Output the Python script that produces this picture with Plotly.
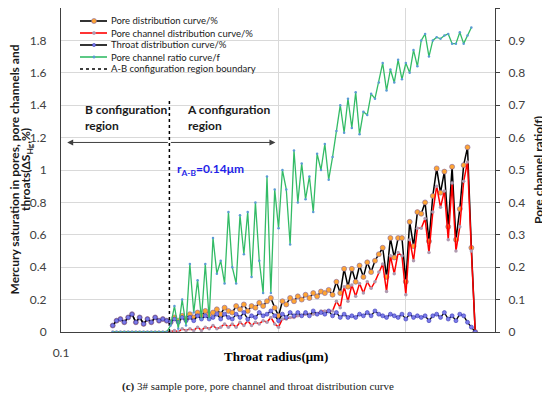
import math
import plotly.graph_objects as go

# ---------------- data ----------------
radius_um = [0.0502, 0.0538, 0.0577, 0.0619, 0.0664, 0.0712, 0.0763, 0.0818, 0.0878, 0.0941,
             0.1009, 0.1082, 0.1160, 0.1244, 0.1334, 0.1431, 0.1534, 0.1645, 0.1764, 0.1892,
             0.2028, 0.2175, 0.2332, 0.2501, 0.2682, 0.2876, 0.3083, 0.3306, 0.3545, 0.3802,
             0.4077, 0.4371, 0.4687, 0.5026, 0.5390, 0.5779, 0.6197, 0.6645, 0.7126, 0.7641,
             0.8193, 0.8786, 0.9421, 1.0102, 1.0832, 1.1616, 1.2456, 1.3356, 1.4322, 1.5357,
             1.6468, 1.7658, 1.8935, 2.0304, 2.1772, 2.3346, 2.5034, 2.6844, 2.8785, 3.0866,
             3.3098, 3.5491, 3.8057, 4.0809, 4.3759, 4.6923, 5.0316, 5.3954, 5.7855, 6.2038,
             6.6524, 7.1333, 7.6491, 8.2021, 8.7952, 9.4311, 10.113, 10.844, 11.628, 12.469,
             13.370, 14.337, 15.374, 16.485, 17.677, 18.955, 20.326, 21.795, 23.371, 25.061,
             26.873, 28.816, 30.899, 33.133, 35.53]

pore_pct = [0.04, 0.07, 0.08, 0.06, 0.09, 0.11, 0.06, 0.09, 0.05, 0.08, 0.06, 0.09, 0.07, 0.08, 0.07,
            0.06, 0.09, 0.07, 0.10, 0.08, 0.11, 0.09, 0.12, 0.10, 0.13, 0.11, 0.12, 0.14, 0.11, 0.15,
            0.13, 0.12, 0.16, 0.14, 0.17, 0.13, 0.16, 0.15, 0.18, 0.16, 0.19, 0.21, 0.15, 0.10, 0.19,
            0.17, 0.21, 0.19, 0.22, 0.20, 0.23, 0.21, 0.24, 0.22, 0.25, 0.24, 0.26, 0.23, 0.31, 0.24,
            0.39, 0.28, 0.39, 0.31, 0.41, 0.34, 0.43, 0.37, 0.44, 0.48, 0.52, 0.34, 0.58, 0.46, 0.58,
            0.58, 0.31, 0.68, 0.53, 0.74, 0.73, 0.80, 0.56, 0.84, 1.01, 0.86, 0.99, 0.65, 1.02, 0.57,
            0.76, 1.03, 1.14, 0.52, 0.0]

channel_pct = [0, 0, 0, 0, 0, 0, 0, 0, 0, 0, 0, 0, 0, 0, 0,
               0.00, 0.01, 0.00, 0.02, 0.01, 0.02, 0.01, 0.03, 0.01, 0.03, 0.02, 0.04, 0.02, 0.03, 0.05,
               0.03, 0.05, 0.03, 0.06, 0.04, 0.07, 0.04, 0.06, 0.05, 0.07, 0.06, 0.09, 0.05, 0.03, 0.08,
               0.08, 0.09, 0.09, 0.10, 0.10, 0.11, 0.11, 0.11, 0.11, 0.13, 0.13, 0.13, 0.13, 0.19, 0.15,
               0.28, 0.19, 0.29, 0.22, 0.30, 0.24, 0.31, 0.27, 0.31, 0.37, 0.42, 0.25, 0.47, 0.36, 0.49,
               0.47, 0.23, 0.57, 0.44, 0.64, 0.64, 0.70, 0.49, 0.74, 0.90, 0.77, 0.87, 0.57, 0.92, 0.50,
               0.65, 0.93, 1.05, 0.50, 0.0]

throat_pct = [0.04, 0.07, 0.08, 0.06, 0.09, 0.11, 0.06, 0.09, 0.05, 0.08, 0.06, 0.09, 0.07, 0.08, 0.07,
              0.06, 0.08, 0.06, 0.09, 0.07, 0.09, 0.07, 0.10, 0.08, 0.10, 0.08, 0.09, 0.11, 0.08, 0.11,
              0.09, 0.08, 0.11, 0.09, 0.12, 0.08, 0.10, 0.09, 0.12, 0.10, 0.11, 0.13, 0.10, 0.07, 0.11,
              0.09, 0.12, 0.10, 0.12, 0.10, 0.12, 0.10, 0.13, 0.11, 0.12, 0.11, 0.13, 0.10, 0.12, 0.09,
              0.11, 0.09, 0.10, 0.09, 0.11, 0.10, 0.12, 0.10, 0.13, 0.11, 0.10, 0.09, 0.11, 0.10, 0.09,
              0.11, 0.08, 0.11, 0.09, 0.10, 0.09, 0.10, 0.07, 0.10, 0.11, 0.09, 0.12, 0.08, 0.10, 0.07,
              0.11, 0.10, 0.06, 0.03, 0.0]

ratio_f = [0, 0, 0, 0, 0, 0, 0, 0, 0, 0, 0, 0, 0, 0, 0,
           0.02, 0.08, 0.01, 0.10, 0.02, 0.21, 0.06, 0.16, 0.04, 0.21, 0.04, 0.29, 0.18, 0.22, 0.15,
           0.37, 0.20, 0.15, 0.36, 0.24, 0.37, 0.17, 0.40, 0.22, 0.12, 0.48, 0.12, 0.44, 0.32, 0.50,
           0.44, 0.27, 0.56, 0.40, 0.52, 0.41, 0.48, 0.37, 0.55, 0.50, 0.58, 0.47, 0.54, 0.62, 0.70,
           0.615, 0.72, 0.63, 0.74, 0.61, 0.68, 0.67, 0.735, 0.72, 0.77, 0.83, 0.745, 0.81, 0.77, 0.84,
           0.78, 0.83, 0.80, 0.87, 0.82, 0.90, 0.92, 0.85, 0.90, 0.91, 0.905, 0.915, 0.92, 0.89, 0.89,
           0.925, 0.89, 0.915, 0.94, None]

boundary_r = [0.14, 0.14]
boundary_y = [0, 1.43]
arrow_y = 1.17
arrow_left_r = 0.022
arrow_right_r = 0.955

legend_names = ["Pore distribution curve/%", "Pore channel distribution curve/%",
                "Throat distribution curve/%", "Pore channel ratio curve/f",
                "A-B configuration region boundary"]

# ---------------- geometry (layout only) ----------------
# the page body has an 8px default margin, so the figure is made 8px smaller
OFF = 8
W, H = 550 - OFF, 397 - OFF
PL, PR, PT, PB = 61 - OFF, 495 - OFF, 0, 332 - OFF


def pxx(px):
    return (px - OFF - PL) / (PR - PL)


def pyy(py):
    return (PB - (py - OFF)) / (PB - PT)


FONT = "Lato"
GREEN = "#33BB66"

fig = go.Figure()

fig.add_trace(go.Scatter(
    x=radius_um, y=pore_pct, mode="lines+markers", name=legend_names[0], showlegend=False,
    line=dict(color="black", width=1.5),
    marker=dict(size=5, color="#FFA533", line=dict(color="#8064A2", width=0.6))))
fig.add_trace(go.Scatter(
    x=radius_um, y=channel_pct, mode="lines+markers", name=legend_names[1], showlegend=False,
    line=dict(color="#FF0000", width=1.5),
    marker=dict(size=3.5, color="#B09AB0", line=dict(width=0))))
fig.add_trace(go.Scatter(
    x=radius_um, y=throat_pct, mode="lines+markers", name=legend_names[2], showlegend=False,
    line=dict(color="black", width=1.3),
    marker=dict(size=4, color="#7B7BEA", line=dict(color="#3A3AB5", width=0.6))))
fig.add_trace(go.Scatter(
    x=radius_um, y=ratio_f, mode="lines+markers", name=legend_names[3], showlegend=False,
    yaxis="y2", line=dict(color=GREEN, width=1.3),
    marker=dict(size=2.5, color="#5B9BD5", line=dict(width=0))))
fig.add_trace(go.Scatter(
    x=boundary_r, y=boundary_y, mode="lines", name=legend_names[4], showlegend=False,
    line=dict(color="black", width=1.5, dash="dot")))

shapes = []
annotations = []

# manual legend (compact rows like the reference)
rows = [21, 33, 45, 57, 69]
lx0, lx1, lmx = 80, 107, 94
styles = [
    dict(color="black", dash="solid", mk="#FFA533", mkl="#8064A2", r=2.5),
    dict(color="#FF0000", dash="solid", mk="#B09AB0", mkl="#B09AB0", r=1.6),
    dict(color="black", dash="solid", mk="#7B7BEA", mkl="#3A3AB5", r=1.6),
    dict(color=GREEN, dash="solid", mk="#5B9BD5", mkl="#5B9BD5", r=1.2),
    dict(color="black", dash="dot", mk=None, mkl=None, r=0),
]
for ry, st, nm in zip(rows, styles, legend_names):
    shapes.append(dict(type="line", xref="paper", yref="paper",
                       x0=pxx(lx0), x1=pxx(lx1), y0=pyy(ry), y1=pyy(ry),
                       line=dict(color=st["color"], width=1.6, dash=st["dash"])))
    if st["mk"]:
        r = st["r"]
        shapes.append(dict(type="circle", xref="paper", yref="paper",
                           x0=pxx(lmx - r), x1=pxx(lmx + r), y0=pyy(ry + r), y1=pyy(ry - r),
                           fillcolor=st["mk"], line=dict(color=st["mkl"], width=0.6)))
    annotations.append(dict(text=nm, xref="paper", yref="paper", x=pxx(109), y=pyy(ry),
                            xanchor="left", yanchor="middle", showarrow=False,
                            font=dict(family=FONT, size=9.5, color="#1a1a1a")))

# region arrows
for tip in (arrow_left_r, arrow_right_r):
    annotations.append(dict(text="", x=math.log10(tip), y=arrow_y, ax=math.log10(boundary_r[0]), ay=arrow_y,
                            xref="x", yref="y", axref="x", ayref="y", showarrow=True,
                            arrowhead=2, arrowsize=1.2, arrowwidth=1, arrowcolor="#404040"))

annotations.append(dict(text="<b>B configuration<br>region</b>", xref="paper", yref="paper",
                        x=pxx(83), y=pyy(118), xanchor="left", yanchor="middle", align="left",
                        showarrow=False, font=dict(family=FONT, size=12, color="#1a1a1a")))
annotations.append(dict(text="<b>A configuration<br>region</b>", xref="paper", yref="paper",
                        x=pxx(185), y=pyy(118), xanchor="left", yanchor="middle", align="left",
                        showarrow=False, font=dict(family=FONT, size=12, color="#1a1a1a")))
annotations.append(dict(text="<b>r<sub>A-B</sub>=0.14μm</b>", xref="paper", yref="paper",
                        x=pxx(175), y=pyy(169), xanchor="left", yanchor="middle",
                        showarrow=False, font=dict(family=FONT, size=12, color="#1F1FE8")))

# axis titles and caption
annotations.append(dict(text="<b>Mercury saturation in pores, pore channels and</b>",
                        xref="paper", yref="paper", x=pxx(13.5), y=pyy(170), xanchor="center",
                        yanchor="middle", textangle=-90, showarrow=False,
                        font=dict(family=FONT, size=12, color="#1a1a1a")))
annotations.append(dict(text="<b>throats(ΔS<sub>Hg</sub>,%)</b>",
                        xref="paper", yref="paper", x=pxx(26), y=pyy(170), xanchor="center",
                        yanchor="middle", textangle=-90, showarrow=False,
                        font=dict(family=FONT, size=12, color="#1a1a1a")))
annotations.append(dict(text="<b>Pore channel ratio(f)</b>", xref="paper", yref="paper",
                        x=pxx(538), y=pyy(170), xanchor="center", yanchor="middle", textangle=-90,
                        showarrow=False, font=dict(family=FONT, size=12, color="#1a1a1a")))
annotations.append(dict(text="<b>Throat radius(μm)</b>", xref="paper", yref="paper",
                        x=pxx(276), y=pyy(357), xanchor="center", yanchor="middle",
                        showarrow=False, font=dict(family="Liberation Serif", size=13, color="black")))
annotations.append(dict(text="<b>(c)</b> 3# sample pore, pore channel and throat distribution curve",
                        xref="paper", yref="paper", x=pxx(258), y=pyy(386), xanchor="center",
                        yanchor="middle", showarrow=False,
                        font=dict(family="Liberation Serif", size=11, color="#222")))

xmin_log, xmax_log = -1.706, 1.706
fig.update_layout(
    width=W, height=H,
    margin=dict(l=PL, r=W - PR, t=PT, b=H - PB, autoexpand=False),
    paper_bgcolor="white", plot_bgcolor="white",
    font=dict(family=FONT, size=12, color="#404040"),
    showlegend=False,
    xaxis=dict(type="log", range=[xmin_log, xmax_log],
               tickvals=[10 ** xmin_log, 1, 10], ticktext=["0.1", "", ""],
               showgrid=True, gridcolor="#D9D9D9", gridwidth=1,
               showline=True, linecolor="#404040", linewidth=1, mirror=True,
               ticks="", ticklabelstandoff=10, zeroline=False,
               tickfont=dict(family=FONT, size=12, color="#404040")),
    yaxis=dict(range=[0, 2], dtick=0.2, tick0=0, showgrid=True, gridcolor="#D9D9D9",
               showline=True, linecolor="#404040", linewidth=1, ticks="",
               ticklabelstandoff=11, zeroline=False,
               tickfont=dict(family=FONT, size=12, color="#404040")),
    yaxis2=dict(range=[0, 1], dtick=0.1, tick0=0, overlaying="y", side="right",
                showgrid=False, showline=True, linecolor="#404040", linewidth=1,
                ticks="outside", ticklen=4, tickcolor="#404040", ticklabelstandoff=6,
                zeroline=False, tickfont=dict(family=FONT, size=12, color="#404040")),
    shapes=shapes, annotations=annotations,
)

fig.write_html("out.html")
